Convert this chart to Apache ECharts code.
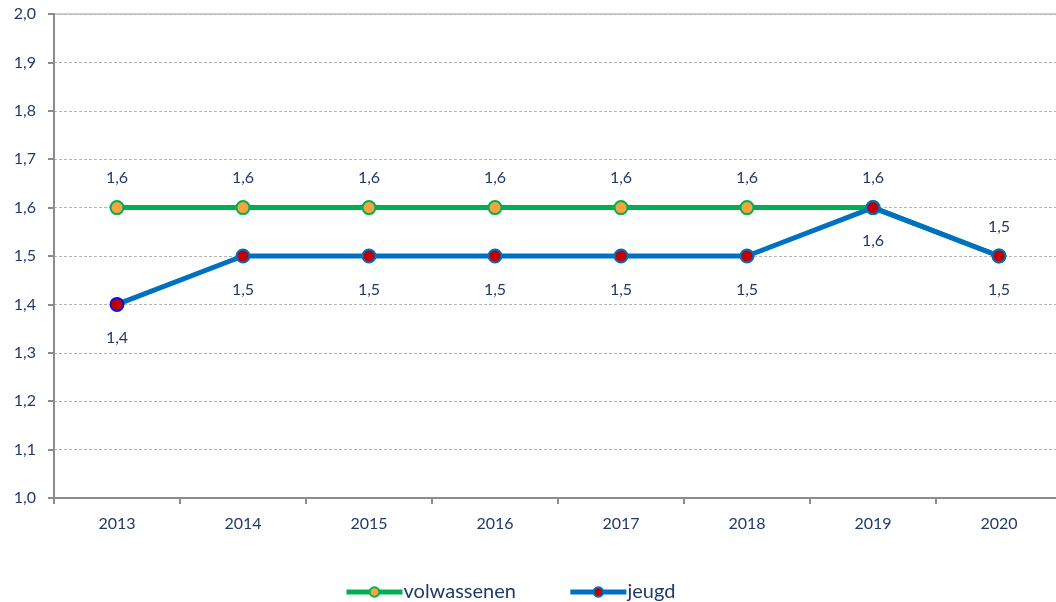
<!DOCTYPE html>
<html><head><meta charset="utf-8">
<script src="https://cdn.jsdelivr.net/npm/echarts@6/dist/echarts.min.js"></script>
<style>html,body{margin:0;padding:0;background:#fff}#c{width:1056px;height:602px}</style>
</head><body><div id="c"></div>
<script>
const categories = ['2013','2014','2015','2016','2017','2018','2019','2020'];
const volwassenen = [1.6, 1.6, 1.6, 1.6, 1.6, 1.6, 1.6, 1.5];
const jeugd = [1.4, 1.5, 1.5, 1.5, 1.5, 1.5, 1.6, 1.5];
const yTicks = {min: 1.0, max: 2.0, interval: 0.1};

const txt = '#1F3A6E';
const font = 'Lato';
const fmt = v => v.toFixed(1).replace('.', ',');

const chart = echarts.init(document.getElementById('c'));
chart.setOption({
  animation: false,
  textStyle: {fontFamily: font},
  grid: {left: 54, top: 14, width: 1008, height: 484, show: true, borderColor: '#A0A0A0', borderWidth: 1, outerBoundsMode: 'none', containLabel: false},
  xAxis: {
    type: 'category', data: categories, boundaryGap: true,
    axisLine: {lineStyle: {color: '#8C8C8C', width: 2}},
    axisTick: {show: true, length: 6, lineStyle: {color: '#8C8C8C', width: 2}},
    axisLabel: {color: txt, fontSize: 16, margin: 18, fontFamily: font}
  },
  yAxis: {
    type: 'value', min: yTicks.min, max: yTicks.max, interval: yTicks.interval,
    axisLine: {show: true, lineStyle: {color: '#8C8C8C', width: 2}},
    axisTick: {show: true, length: 6, lineStyle: {color: '#8C8C8C', width: 2}},
    axisLabel: {color: txt, fontSize: 16, margin: 18, fontFamily: font, formatter: v => fmt(v)},
    splitLine: {show: true, lineStyle: {color: '#B4B4B4', type: [3, 2], width: 1}}
  },
  legend: {
    top: 577, left: 339, itemWidth: 56, itemHeight: 12, itemGap: 52,
    lineStyle: {width: 5},
    textStyle: {color: txt, fontSize: 20, fontFamily: font, padding: [0, 0, 0, -4]},
    data: ['volwassenen', 'jeugd']
  },
  series: [
    {
      name: 'volwassenen', type: 'line', data: volwassenen,
      symbol: 'circle', symbolSize: 13,
      lineStyle: {color: '#00B050', width: 5},
      itemStyle: {color: '#F8A241', borderColor: '#00B050', borderWidth: 2},
      label: {show: true, position: 'top', distance: 14, color: txt, fontSize: 16, fontFamily: font, formatter: p => fmt(p.value)},
      z: 2
    },
    {
      name: 'jeugd', type: 'line',
      data: jeugd.map((v, i) => i === 0 ? {value: v, itemStyle: {borderColor: '#1010E0'}} : v),
      symbol: 'circle', symbolSize: 13,
      lineStyle: {color: '#0070C0', width: 5},
      itemStyle: {color: '#C00000', borderColor: '#0070C0', borderWidth: 2},
      label: {show: true, position: 'bottom', distance: 18, color: txt, fontSize: 16, fontFamily: font, formatter: p => fmt(p.value)},
      z: 3
    }
  ]
});
</script></body></html>
